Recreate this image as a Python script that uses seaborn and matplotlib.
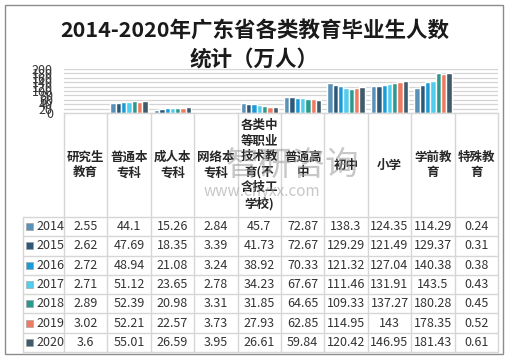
import pandas as pd
import matplotlib.pyplot as plt
import seaborn as sns
from matplotlib.patches import Rectangle

# DATA

categories = ["研究生教育", "普通本专科", "成人本专科", "网络本专科",
              "各类中等职业技术教育(不含技工学校)", "普通高中", "初中", "小学",
              "学前教育", "特殊教育"]
header_labels = ["研究生\n教育", "普通本\n专科", "成人本\n专科", "网络本\n专科",
                 "各类中\n等职业\n技术教\n育(不\n含技工\n学校)", "普通高\n中", "初中", "小学",
                 "学前教\n育", "特殊教\n育"]
years = ["2014", "2015", "2016", "2017", "2018", "2019", "2020"]

v2014 = [2.55, 44.1, 15.26, 2.84, 45.7, 72.87, 138.3, 124.35, 114.29, 0.24]
v2015 = [2.62, 47.69, 18.35, 3.39, 41.73, 72.67, 129.29, 121.49, 129.37, 0.31]
v2016 = [2.72, 48.94, 21.08, 3.24, 38.92, 70.33, 121.32, 127.04, 140.38, 0.38]
v2017 = [2.71, 51.12, 23.65, 2.78, 34.23, 67.67, 111.46, 131.91, 143.5, 0.43]
v2018 = [2.89, 52.39, 20.98, 3.31, 31.85, 64.65, 109.33, 137.27, 180.28, 0.45]
v2019 = [3.02, 52.21, 22.57, 3.73, 27.93, 62.85, 114.95, 143, 178.35, 0.52]
v2020 = [3.6, 55.01, 26.59, 3.95, 26.61, 59.84, 120.42, 146.95, 181.43, 0.61]

yticks = [0, 20, 40, 60, 80, 100, 120, 140, 160, 180, 200]
colors = ["#5a91b6", "#2e5877", "#1b9bd8", "#52cdee", "#2b9a8c", "#ee7b61", "#3f5a6b"]

series = [v2014, v2015, v2016, v2017, v2018, v2019, v2020]
rows = []
for y, vals in zip(years, series):
    for c, v in zip(categories, vals):
        rows.append({"cat": c, "year": y, "value": v})
df = pd.DataFrame(rows)

# FIGURE

sns.set_style("white")
plt.rcParams["font.family"] = ["Noto Sans CJK SC", "DejaVu Sans"]

W, H = 509, 359
fig = plt.figure(figsize=(W / 100, H / 100), dpi=100)


def fx(x):
    return x / W


def fy(y):
    return 1 - y / H


# outer border
fig.patches.append(Rectangle((fx(5), fy(354)), fx(498), (349) / H, transform=fig.transFigure,
                             fill=False, edgecolor="#8c8c8c", linewidth=1))

fig.text(0.5, fy(30), "2014-2020年广东省各类教育毕业生人数", ha="center", va="center",
         fontsize=15.5, fontweight="bold", color="#1a1a1a")
fig.text(0.5, fy(59), "统计（万人）", ha="center", va="center",
         fontsize=15.5, fontweight="bold", color="#1a1a1a")

x0, x1 = 64, 498
ax = fig.add_axes([fx(x0), fy(113), fx(x1 - x0), (113 - 69) / H])
sns.barplot(data=df, x="cat", y="value", hue="year", hue_order=years, order=categories,
            palette=colors, width=0.86, ax=ax, legend=False, saturation=1)
ax.set_ylim(0, 200)
ax.set_yticks(yticks)
ax.set_yticklabels([str(t) for t in yticks], fontsize=9, color="#333333")
ax.tick_params(axis="y", length=0, pad=8)
ax.set_xticks([])
ax.set_xlabel("")
ax.set_ylabel("")
ax.grid(axis="y", color="#d4d4d4", linewidth=0.9)
ax.set_axisbelow(True)
for s in ax.spines.values():
    s.set_visible(False)

# data table
line_c = "#d6d6d6"
ncol = len(categories)
cw = (x1 - x0) / ncol
col_edges = [x0 + i * cw for i in range(ncol + 1)]
head_top, data_top, bottom = 113, 217, 352
rh = (bottom - data_top) / len(years)

for xe in col_edges:
    fig.add_artist(plt.Line2D([fx(xe), fx(xe)], [fy(head_top), fy(bottom)],
                              transform=fig.transFigure, color=line_c, linewidth=1))
fig.add_artist(plt.Line2D([fx(23), fx(23)], [fy(data_top), fy(bottom)],
                          transform=fig.transFigure, color=line_c, linewidth=1))
fig.add_artist(plt.Line2D([fx(x0), fx(x1)], [fy(head_top), fy(head_top)],
                          transform=fig.transFigure, color=line_c, linewidth=1))
for i in range(len(years) + 1):
    yy = data_top + i * rh
    fig.add_artist(plt.Line2D([fx(23), fx(x1)], [fy(yy), fy(yy)],
                              transform=fig.transFigure, color=line_c, linewidth=1))

for i, lab in enumerate(header_labels):
    fig.text(fx(col_edges[i] + cw / 2), fy((head_top + data_top) / 2), lab,
             ha="center", va="center", fontsize=9, fontweight="bold",
             color="#262626", linespacing=1.25)

for r, (y, vals, c) in enumerate(zip(years, series, colors)):
    yc = data_top + (r + 0.5) * rh
    fig.patches.append(Rectangle((fx(26), fy(yc + 3.5)), fx(7), 7 / H,
                                 transform=fig.transFigure, facecolor=c,
                                 edgecolor="#9a9a9a", linewidth=0.4))
    fig.text(fx(36), fy(yc), y, ha="left", va="center", fontsize=9, color="#333333")
    for i, v in enumerate(vals):
        fig.text(fx(col_edges[i] + cw / 2), fy(yc), f"{v:g}", ha="center", va="center",
                 fontsize=9, color="#333333")

# watermark
fig.text(fx(292), fy(165), "智研咨询", ha="center", va="center", fontsize=24,
         color="#9a9a9a", alpha=0.55)
fig.text(fx(262), fy(192), "www.chyxx.com", ha="center", va="center", fontsize=11,
         color="#9a9a9a", alpha=0.55)

fig.savefig("out.png", dpi=100)
